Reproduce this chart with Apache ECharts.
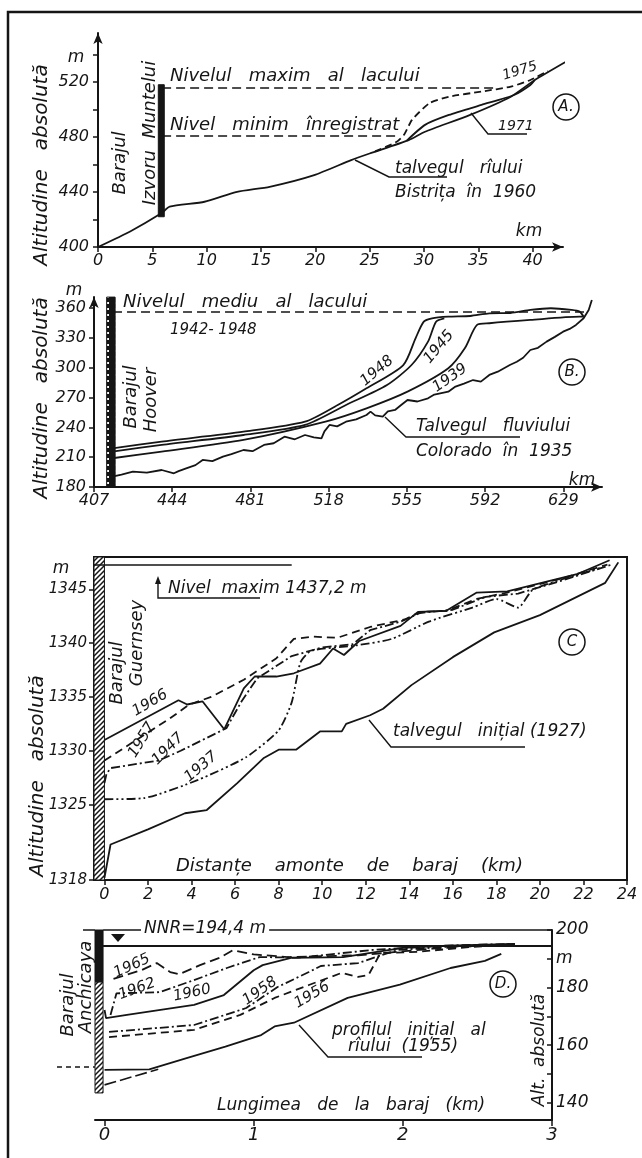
<!DOCTYPE html>
<html>
<head>
<meta charset="utf-8">
<script src="https://cdn.jsdelivr.net/npm/echarts@6/dist/echarts.min.js"></script>
<style>
  html, body { margin: 0; padding: 0; background: #fff; }
  #chart { width: 642px; height: 1158px; }
</style>
</head>
<body>
<div id="chart"></div>
<script>
// ---- A: Izvoru Muntelui / Bistrita  [km, m]
const A_1960 = [[0, 400], [3, 411.5], [5.83, 424.5], [6.6, 429.3], [9.8, 432.9], [12.8, 440.1], [15.8, 443.8], [19.9, 452.3], [23.3, 463.2], [25, 468], [28.6, 477.7], [30.1, 483.8], [34.2, 495.9], [38, 509.3], [40.2, 521.4], [44.4, 540.8]];
const A_1971 = [[28.4, 477.2], [30.1, 488.8], [32.3, 496], [35.3, 503.3], [38.3, 510.5], [39.8, 517.8], [40.2, 521.4]];
const A_1975 = [[25.5, 469.5], [27.5, 476.5], [28.2, 482], [28.9, 492.4], [30.5, 504.5], [32.3, 509.3], [35.3, 513], [38, 516.6], [39.8, 521.4], [41.4, 528]];
const A_levels = [515.6, 481];          // nivel maxim, nivel minim
const A_levelEnds = [36.8, 27.6];
const A_dam = [5.55, 6.1, 422, 518];

// ---- B: Hoover / Colorado
const B_1935 = [[415.7, 190.4], [420, 192.5], [425.4, 195.4], [432, 194.5], [439, 197.1], [444.8, 193.8], [447, 196], [450.6, 198.8], [455, 202], [458.4, 207.2], [463, 206], [468, 210.5], [472, 213], [477.7, 217.2], [482, 216], [487.4, 222.3], [492, 224], [497.1, 230.6], [502, 228], [506.8, 232.3], [511, 230], [514.6, 229], [516, 236], [518.4, 242.4], [522, 241], [526.2, 245.7], [531, 248], [535.9, 252.4], [537.8, 255.8], [540, 252], [543.6, 250.7], [546, 256], [549.4, 257.5], [552, 262], [555.3, 267.5], [560, 266], [565, 269.2], [568, 273], [574.6, 275.9], [578, 281], [582, 284], [586.3, 287.6], [590, 286], [594, 292.7], [598, 296], [603.7, 302.7], [607, 306], [610, 310], [613.4, 317.8], [617, 320], [621.1, 326.2], [625, 331], [628.9, 336.2], [632, 339], [635, 343], [638.6, 349.7], [641, 358], [642.5, 368.1]];
const B_1948 = [[415.7, 218.9], [439, 225.6], [477.7, 235.6], [506.8, 245.7], [522.3, 262.5], [535.9, 279.3], [553.3, 302.7], [559.1, 329.6], [563, 346.3], [566.9, 349.7], [574.6, 351.3], [585, 352], [594, 354.7], [604, 355], [613.4, 358.1], [623.1, 359.8], [632.8, 358.1], [636.7, 356.4], [638.6, 351.3]];
const B_1945 = [[415.7, 215.6], [439, 222.3], [477.7, 232.3], [506.8, 242.4], [526.2, 262.5], [545.6, 282.6], [557.2, 302.7], [565, 326.2], [568.8, 346.3], [572.7, 349.7]];
const B_1939 = [[415.7, 208.9], [439, 215.6], [477.7, 227.3], [516.5, 245.7], [535.9, 259.1], [555.3, 275.9], [574.6, 299.4], [582.4, 319.5], [588.2, 343], [594, 344.7], [613.4, 348], [636.7, 351.3], [638.6, 351.3]];
const B_level = 356;
const B_levelEnds = [416, 639];
const B_dam = [413, 417, 180, 371];

// ---- C: Guernsey
const C_1927 = [[0, 1318.2], [0.28, 1321.3], [2.0, 1322.7], [3.7, 1324.2], [4.7, 1324.5], [6.1, 1327.0], [7.3, 1329.3], [8.0, 1330.1], [8.8, 1330.1], [9.9, 1331.8], [10.9, 1331.8], [11.1, 1332.5], [12.2, 1333.3], [12.8, 1333.9], [14.1, 1336.1], [16.0, 1338.7], [17.9, 1341.0], [20.0, 1342.6], [23.0, 1345.6], [23.6, 1347.5]];
const C_1966 = [[0, 1331.0], [3.4, 1334.7], [3.8, 1334.3], [4.5, 1334.6], [5.5, 1332.0], [6.4, 1335.8], [6.9, 1336.9], [7.9, 1336.9], [8.7, 1337.2], [9.9, 1338.1], [10.5, 1339.5], [11.0, 1338.9], [11.7, 1340.2], [13.6, 1341.6], [14.4, 1342.9], [15.7, 1343.0], [17.1, 1344.7], [18.5, 1344.8], [21.7, 1346.4], [23.2, 1347.7]];
const C_1957 = [[0, 1329.1], [3.0, 1333.0], [3.9, 1334.3], [4.9, 1335.0], [6.4, 1336.6], [7.9, 1338.6], [8.7, 1340.4], [9.6, 1340.6], [10.7, 1340.5], [12.2, 1341.5], [13.8, 1342.2], [14.5, 1342.9], [15.7, 1343.0], [17.1, 1344.1], [18.5, 1344.7], [21.0, 1346.0], [23.1, 1347.3]];
const C_1947 = [[0, 1327.0], [0.1, 1327.9], [0.3, 1328.4], [2.5, 1329.1], [3.5, 1330.0], [5.6, 1332.1], [6.3, 1334.6], [7.0, 1336.7], [8.6, 1338.8], [10.0, 1339.6], [11.4, 1339.9], [12.2, 1341.2], [13.6, 1342.0], [14.5, 1342.8], [16.0, 1343.1], [17.5, 1344.3], [19.0, 1344.6], [21.0, 1345.8], [23.3, 1347.3]];
const C_1937 = [[0, 1325.5], [1.8, 1325.6], [4.3, 1327.3], [6.5, 1329.4], [8.0, 1331.9], [8.6, 1334.5], [9.0, 1338.2], [9.5, 1339.3], [11.6, 1339.8], [13.2, 1340.4], [14.9, 1342.0], [16.9, 1343.3], [18.0, 1344.1], [19.0, 1343.3], [19.7, 1345.0], [22.8, 1347.0]];
const C_maxLine = [1347.3, -0.48, 8.6];
const C_dam = [-0.48, 0, 1318, 1348];
const C_xTicks = [0, 2, 4, 6, 8, 10, 12, 14, 16, 18, 20, 22, 24];
const C_yTicks = [1318, 1325, 1330, 1335, 1340, 1345];

// ---- D: Anchicaya
const D_1955 = [[0, 151.4], [0.3, 151.6], [0.55, 155.5], [0.81, 159.5], [1.05, 163.5], [1.14, 166.5], [1.27, 167.8], [1.63, 176.4], [1.98, 181], [2.32, 186.8], [2.55, 189.3], [2.66, 191.7]];
const D_bed = [[0, 146.2], [0.3, 150.7], [0.36, 151.6]];
const D_1956 = [[0.03, 162.8], [0.6, 165.3], [0.91, 170.5], [1.14, 176.4], [1.37, 180.9], [1.59, 185.1], [1.7, 183.7], [1.77, 184.4], [1.85, 192], [2.1, 192.4], [2.45, 194.1], [2.75, 195]];
const D_1958 = [[0.03, 164.6], [0.6, 167], [0.95, 172.9], [1.16, 180.2], [1.37, 185.4], [1.45, 187.5], [1.7, 188.5], [1.86, 191.3], [1.97, 193.1], [2.3, 194.2], [2.75, 195]];
const D_1960 = [[0, 172.2], [0.01, 169.4], [0.15, 170.5], [0.6, 174], [0.8, 177.4], [1.0, 186], [1.06, 187.8], [1.25, 190.3], [1.6, 190.6], [2.0, 193.8], [2.3, 194.6], [2.75, 195.2]];
const D_1962 = [[0.04, 170.5], [0.08, 178], [0.37, 178.4], [0.6, 182.6], [0.82, 186.8], [1.04, 190.6], [1.3, 190.4], [1.8, 193.1], [2.3, 194.6], [2.75, 195.2]];
const D_1965 = [[0.06, 183], [0.25, 186.1], [0.35, 188.5], [0.44, 185.4], [0.5, 184.6], [0.64, 187.8], [0.77, 190.3], [0.86, 193], [1.0, 191.5], [1.23, 190.6], [1.7, 191.2], [2.2, 193.5], [2.75, 195.2]];
const D_NNR = 194.4;
const D_top = 200;
const D_dam = [-0.064, -0.01, 143.4, 182, 200];
const D_xTicks = [0, 1, 2, 3];
const D_yTicks = [140, 150, 160, 170, 180, 190, 200];
const D_yLabels = [140, 160, 180, 190, 200];

const INK = "#151515";
const FONT = "DejaVu Sans";

function pattern(w, h, draw) {
  const c = document.createElement("canvas");
  c.width = w;
  c.height = h;
  const g = c.getContext("2d");
  g.fillStyle = "#fff";
  g.fillRect(0, 0, w, h);
  g.strokeStyle = INK;
  g.fillStyle = INK;
  draw(g);
  return { image: c, repeat: "repeat" };
}
const hatch = pattern(5, 5, g => {
  g.lineWidth = 1.5;
  g.beginPath();
  g.moveTo(0, 5); g.lineTo(5, 0);
  g.moveTo(-1, 1); g.lineTo(1, -1);
  g.moveTo(4, 6); g.lineTo(6, 4);
  g.stroke();
});
const checker = pattern(8, 6, g => {
  g.fillRect(0, 0, 8, 6);
  g.fillStyle = "#fff";
  g.fillRect(3, 2, 2, 2);
});

function profile(i, data, dash, extra) {
  return Object.assign({
    type: "line",
    xAxisIndex: i,
    yAxisIndex: i,
    data: data,
    symbol: "none",
    silent: true,
    lineStyle: { color: INK, width: 1.8, type: dash || "solid" }
  }, extra || {});
}
function area(x1, x2, y1, y2, fill) {
  return [{ coord: [x1, y1], itemStyle: { color: fill, borderColor: INK, borderWidth: 1 } }, { coord: [x2, y2] }];
}
function hline(y, x1, x2, type, width) {
  return [{ coord: [x1, y], lineStyle: { type: type, width: width || 1.6, color: INK } }, { coord: [x2, y] }];
}
const markLineBase = { symbol: "none", silent: true, label: { show: false }, lineStyle: { color: INK } };

function xAx(i, o) {
  return Object.assign({
    type: "value",
    gridIndex: i,
    splitLine: { show: false },
    axisLine: { show: true, onZero: false, lineStyle: { color: INK, width: 2 } },
    axisTick: { show: true, length: 5, lineStyle: { color: INK, width: 1.5 } },
    axisLabel: { color: INK, fontFamily: FONT, fontStyle: "italic", fontSize: 16, margin: 6, showMaxLabel: false }
  }, o);
}
function yAx(i, o) {
  return Object.assign({
    type: "value",
    gridIndex: i,
    splitLine: { show: false },
    axisLine: { show: true, onZero: false, lineStyle: { color: INK, width: 2 } },
    axisTick: { show: true, length: 5, lineStyle: { color: INK, width: 1.5 } },
    axisLabel: { color: INK, fontFamily: FONT, fontStyle: "italic", fontSize: 16, margin: 8, showMaxLabel: false }
  }, o);
}
const arrowLine = { show: true, onZero: false, symbol: ["none", "arrow"], symbolSize: [7, 11], lineStyle: { color: INK, width: 2 } };

function txt(x, y, s, o) {
  o = o || {};
  return {
    type: "text", x: x, y: y, z: 20,
    rotation: (o.rot || 0) * Math.PI / 180,
    style: {
      text: s, fill: INK,
      font: "italic " + (o.size || 16) + "px \"" + FONT + "\"",
      align: o.align || "left", verticalAlign: "middle",
      backgroundColor: o.bg || null, padding: o.bg ? [0, 3] : 0
    }
  };
}
function poly(points, w, dash) {
  return { type: "polyline", z: 20, shape: { points: points }, style: { stroke: INK, lineWidth: w || 1.4, fill: null, lineDash: dash || null } };
}
function ring(x, y, s) {
  return { type: "group", z: 20, children: [
    { type: "circle", shape: { cx: x, cy: y, r: 13 }, style: { fill: "#fff", stroke: INK, lineWidth: 1.5 } },
    { type: "text", x: x, y: y, style: { text: s, fill: INK, font: "italic 15px \"" + FONT + "\"", align: "center", verticalAlign: "middle" } }
  ] };
}

const option = {
  animation: false,
  backgroundColor: "#fff",
  grid: [
    { left: 98, top: 33, width: 465, height: 214 },
    { left: 94, top: 297, width: 508, height: 190 },
    { left: 94, top: 557, width: 533, height: 323, show: true, borderColor: INK, borderWidth: 2 },
    { left: 95, top: 930, width: 457, height: 190 }
  ],
  xAxis: [
    xAx(0, { min: 0, max: 42.8, interval: 5, axisLine: arrowLine }),
    xAx(1, { min: 407, max: 647.3, interval: 37, axisLine: arrowLine }),
    xAx(2, { min: -0.48, max: 24,
      axisTick: { show: true, length: 5, customValues: C_xTicks, lineStyle: { color: INK, width: 1.5 } },
      axisLabel: { color: INK, fontFamily: FONT, fontStyle: "italic", fontSize: 16, margin: 7, customValues: C_xTicks } }),
    xAx(3, { min: -0.064, max: 3,
      axisTick: { show: true, length: 6, customValues: D_xTicks, lineStyle: { color: INK, width: 1.5 } },
      axisLabel: { color: INK, fontFamily: FONT, fontStyle: "italic", fontSize: 18, margin: 6, customValues: D_xTicks } })
  ],
  yAxis: [
    yAx(0, { min: 400, max: 555.6, interval: 20, axisLine: arrowLine,
      axisLabel: { color: INK, fontFamily: FONT, fontStyle: "italic", fontSize: 16, margin: 9, showMaxLabel: false,
        formatter: v => (v % 40 === 0 ? v : "") } }),
    yAx(1, { min: 180, max: 371.1, interval: 30, axisLine: arrowLine }),
    yAx(2, { min: 1318, max: 1348,
      axisTick: { show: true, length: 5, customValues: C_yTicks, lineStyle: { color: INK, width: 1.5 } },
      axisLabel: { color: INK, fontFamily: FONT, fontStyle: "italic", fontSize: 15, margin: 7, customValues: C_yTicks,
        formatter: v => String(v) } }),
    yAx(3, { min: 134, max: 200, position: "right",
      axisTick: { show: true, length: 5, inside: true, customValues: D_yTicks, lineStyle: { color: INK, width: 1.5 } },
      axisLabel: { color: INK, fontFamily: FONT, fontStyle: "italic", fontSize: 17, margin: 4, customValues: D_yLabels,
        formatter: v => (v === 190 ? "m" : String(v)) } })
  ],
  series: [
    profile(0, A_1960, "solid", { smooth: 0.2, clip: false,
      markArea: { silent: true, data: [area(A_dam[0], A_dam[1], A_dam[2], A_dam[3], INK)] },
      markLine: Object.assign({}, markLineBase, { data: [
        hline(A_levels[0], 5.9, A_levelEnds[0], [9, 5]),
        hline(A_levels[1], 5.9, A_levelEnds[1], [9, 5])
      ] }) }),
    profile(0, A_1971, "solid", { smooth: 0.2 }),
    profile(0, A_1975, [7, 4], { smooth: 0.2 }),

    profile(1, B_1935, "solid", {
      markArea: { silent: true, data: [area(B_dam[0], B_dam[1], B_dam[2], B_dam[3], checker)] },
      markLine: Object.assign({}, markLineBase, { data: [hline(B_level, B_levelEnds[0], B_levelEnds[1], [9, 5])] }) }),
    profile(1, B_1948, "solid", { smooth: 0.25 }),
    profile(1, B_1945, "solid", { smooth: 0.25 }),
    profile(1, B_1939, "solid", { smooth: 0.25 }),

    profile(2, C_1927, "solid", {
      markArea: { silent: true, data: [area(C_dam[0], C_dam[1], C_dam[2], C_dam[3], hatch)] },
      markLine: Object.assign({}, markLineBase, { data: [hline(C_maxLine[0], C_maxLine[1], C_maxLine[2], "solid", 1.5)] }) }),
    profile(2, C_1966, "solid"),
    profile(2, C_1957, [8, 5]),
    profile(2, C_1947, [9, 3, 2, 3]),
    profile(2, C_1937, [9, 3, 2, 3, 2, 3], { smooth: 0.2 }),

    profile(3, D_1955, "solid", {
      markArea: { silent: true, data: [
        area(D_dam[0], D_dam[1], D_dam[2], D_dam[3], hatch),
        area(D_dam[0], D_dam[1], D_dam[3], D_dam[4], INK)
      ] },
      markLine: Object.assign({}, markLineBase, { data: [
        hline(D_top, D_dam[1], 3, "solid", 1.5),
        hline(D_NNR, D_dam[1], 3, "solid", 1.8)
      ] }) }),
    profile(3, D_bed, "solid", { lineStyle: { color: INK, width: 1.6, type: [12, 4] } }),
    profile(3, D_1956, [8, 5]),
    profile(3, D_1958, [9, 3, 2, 3]),
    profile(3, D_1960, "solid"),
    profile(3, D_1962, [9, 3, 2, 3]),
    profile(3, D_1965, [10, 5])
  ],
  graphic: [
    // frame of the figure
    poly([[8, 1158], [8, 12], [642, 12]], 2.5),

    // A
    txt(42, 165, "Altitudine   absolută", { rot: 90, align: "center", size: 20 }),
    txt(76, 58, "m", { align: "center", size: 17 }),
    txt(529, 232, "km", { align: "center", size: 17 }),
    txt(120, 163, "Barajul", { rot: 90, align: "center", size: 18 }),
    txt(150, 133, "Izvoru  Muntelui", { rot: 90, align: "center", size: 18 }),
    txt(170, 76, "Nivelul   maxim   al   lacului", { size: 18 }),
    txt(170, 125, "Nivel   minim   înregistrat", { size: 18 }),
    txt(520, 71, "1975", { rot: 17, align: "center", size: 14 }),
    txt(498, 126, "1971", { size: 14 }),
    poly([[471, 113], [488, 134], [527, 134]]),
    txt(395, 169, "talvegul   rîului", { size: 17 }),
    poly([[355, 160], [389, 177], [447, 177]]),
    txt(395, 193, "Bistrița  în  1960", { size: 17 }),
    ring(566, 107, "A."),

    // B
    txt(42, 398, "Altitudine   absolută", { rot: 90, align: "center", size: 20 }),
    txt(74, 291, "m", { align: "center", size: 17 }),
    txt(582, 481, "km", { align: "center", size: 17 }),
    txt(131, 397, "Barajul", { rot: 90, align: "center", size: 18 }),
    txt(151, 400, "Hoover", { rot: 90, align: "center", size: 18 }),
    txt(123, 302, "Nivelul   mediu   al   lacului", { size: 18 }),
    txt(170, 330, "1942- 1948", { size: 15 }),
    txt(377, 371, "1948", { rot: 40, align: "center", size: 15 }),
    txt(439, 347, "1945", { rot: 50, align: "center", size: 15 }),
    txt(450, 378, "1939", { rot: 35, align: "center", size: 15 }),
    txt(416, 427, "Talvegul   fluviului", { size: 17 }),
    poly([[385, 417], [406, 437], [520, 437]]),
    txt(416, 452, "Colorado  în  1935", { size: 17 }),
    ring(572, 372, "B."),

    // C
    txt(38, 776, "Altitudine   absolută", { rot: 90, align: "center", size: 20 }),
    txt(61, 569, "m", { align: "center", size: 17 }),
    txt(117, 673, "Barajul", { rot: 90, align: "center", size: 18 }),
    txt(137, 643, "Guernsey", { rot: 90, align: "center", size: 18 }),
    poly([[158, 580], [158, 598], [260, 598]]),
    { type: "polygon", z: 20, shape: { points: [[155, 584], [158, 576], [161, 584]] }, style: { fill: INK } },
    txt(168, 589, "Nivel  maxim 1437,2 m", { size: 17 }),
    txt(150, 703, "1966", { rot: 30, align: "center", size: 15 }),
    txt(142, 740, "1957", { rot: 58, align: "center", size: 15 }),
    txt(168, 749, "1947", { rot: 45, align: "center", size: 15 }),
    txt(201, 767, "1937", { rot: 40, align: "center", size: 15 }),
    txt(393, 732, "talvegul   inițial (1927)", { size: 17 }),
    poly([[369, 720], [391, 747], [525, 747]]),
    ring(572, 642, "C"),
    txt(176, 866, "Distanțe    amonte    de    baraj    (km)", { size: 18 }),

    // D
    txt(68, 1005, "Barajul", { rot: 90, align: "center", size: 18 }),
    txt(86, 987, "Anchicaya", { rot: 90, align: "center", size: 18 }),
    poly([[57, 1067], [95, 1067]], 1.5, [5, 4]),
    poly([[83, 930], [95, 930]], 1.5),
    { type: "polygon", z: 20, shape: { points: [[111, 934], [125, 934], [118, 942]] }, style: { fill: INK } },
    txt(141, 929, "NNR=194,4 m", { size: 17, bg: "#fff" }),
    txt(132, 966, "1965", { rot: 25, align: "center", size: 15 }),
    txt(137, 989, "1962", { rot: 20, align: "center", size: 15 }),
    txt(192, 993, "1960", { rot: 12, align: "center", size: 15 }),
    txt(260, 991, "1958", { rot: 35, align: "center", size: 15 }),
    txt(312, 995, "1956", { rot: 30, align: "center", size: 15 }),
    txt(332, 1031, "profilul   inițial   al", { size: 17 }),
    txt(348, 1047, "rîului  (1955)", { size: 17 }),
    poly([[299, 1025], [328, 1057], [422, 1057]]),
    ring(503, 984, "D."),
    txt(540, 1050, "Alt.  absolută", { rot: 90, align: "center", size: 17 }),
    txt(217, 1106, "Lungimea   de   la   baraj   (km)", { size: 17 })
  ]
};

const chart = echarts.init(document.getElementById("chart"), null, { renderer: "canvas" });
chart.setOption(option);
window.addEventListener("resize", () => chart.resize(), false);
</script>
</body>
</html>
